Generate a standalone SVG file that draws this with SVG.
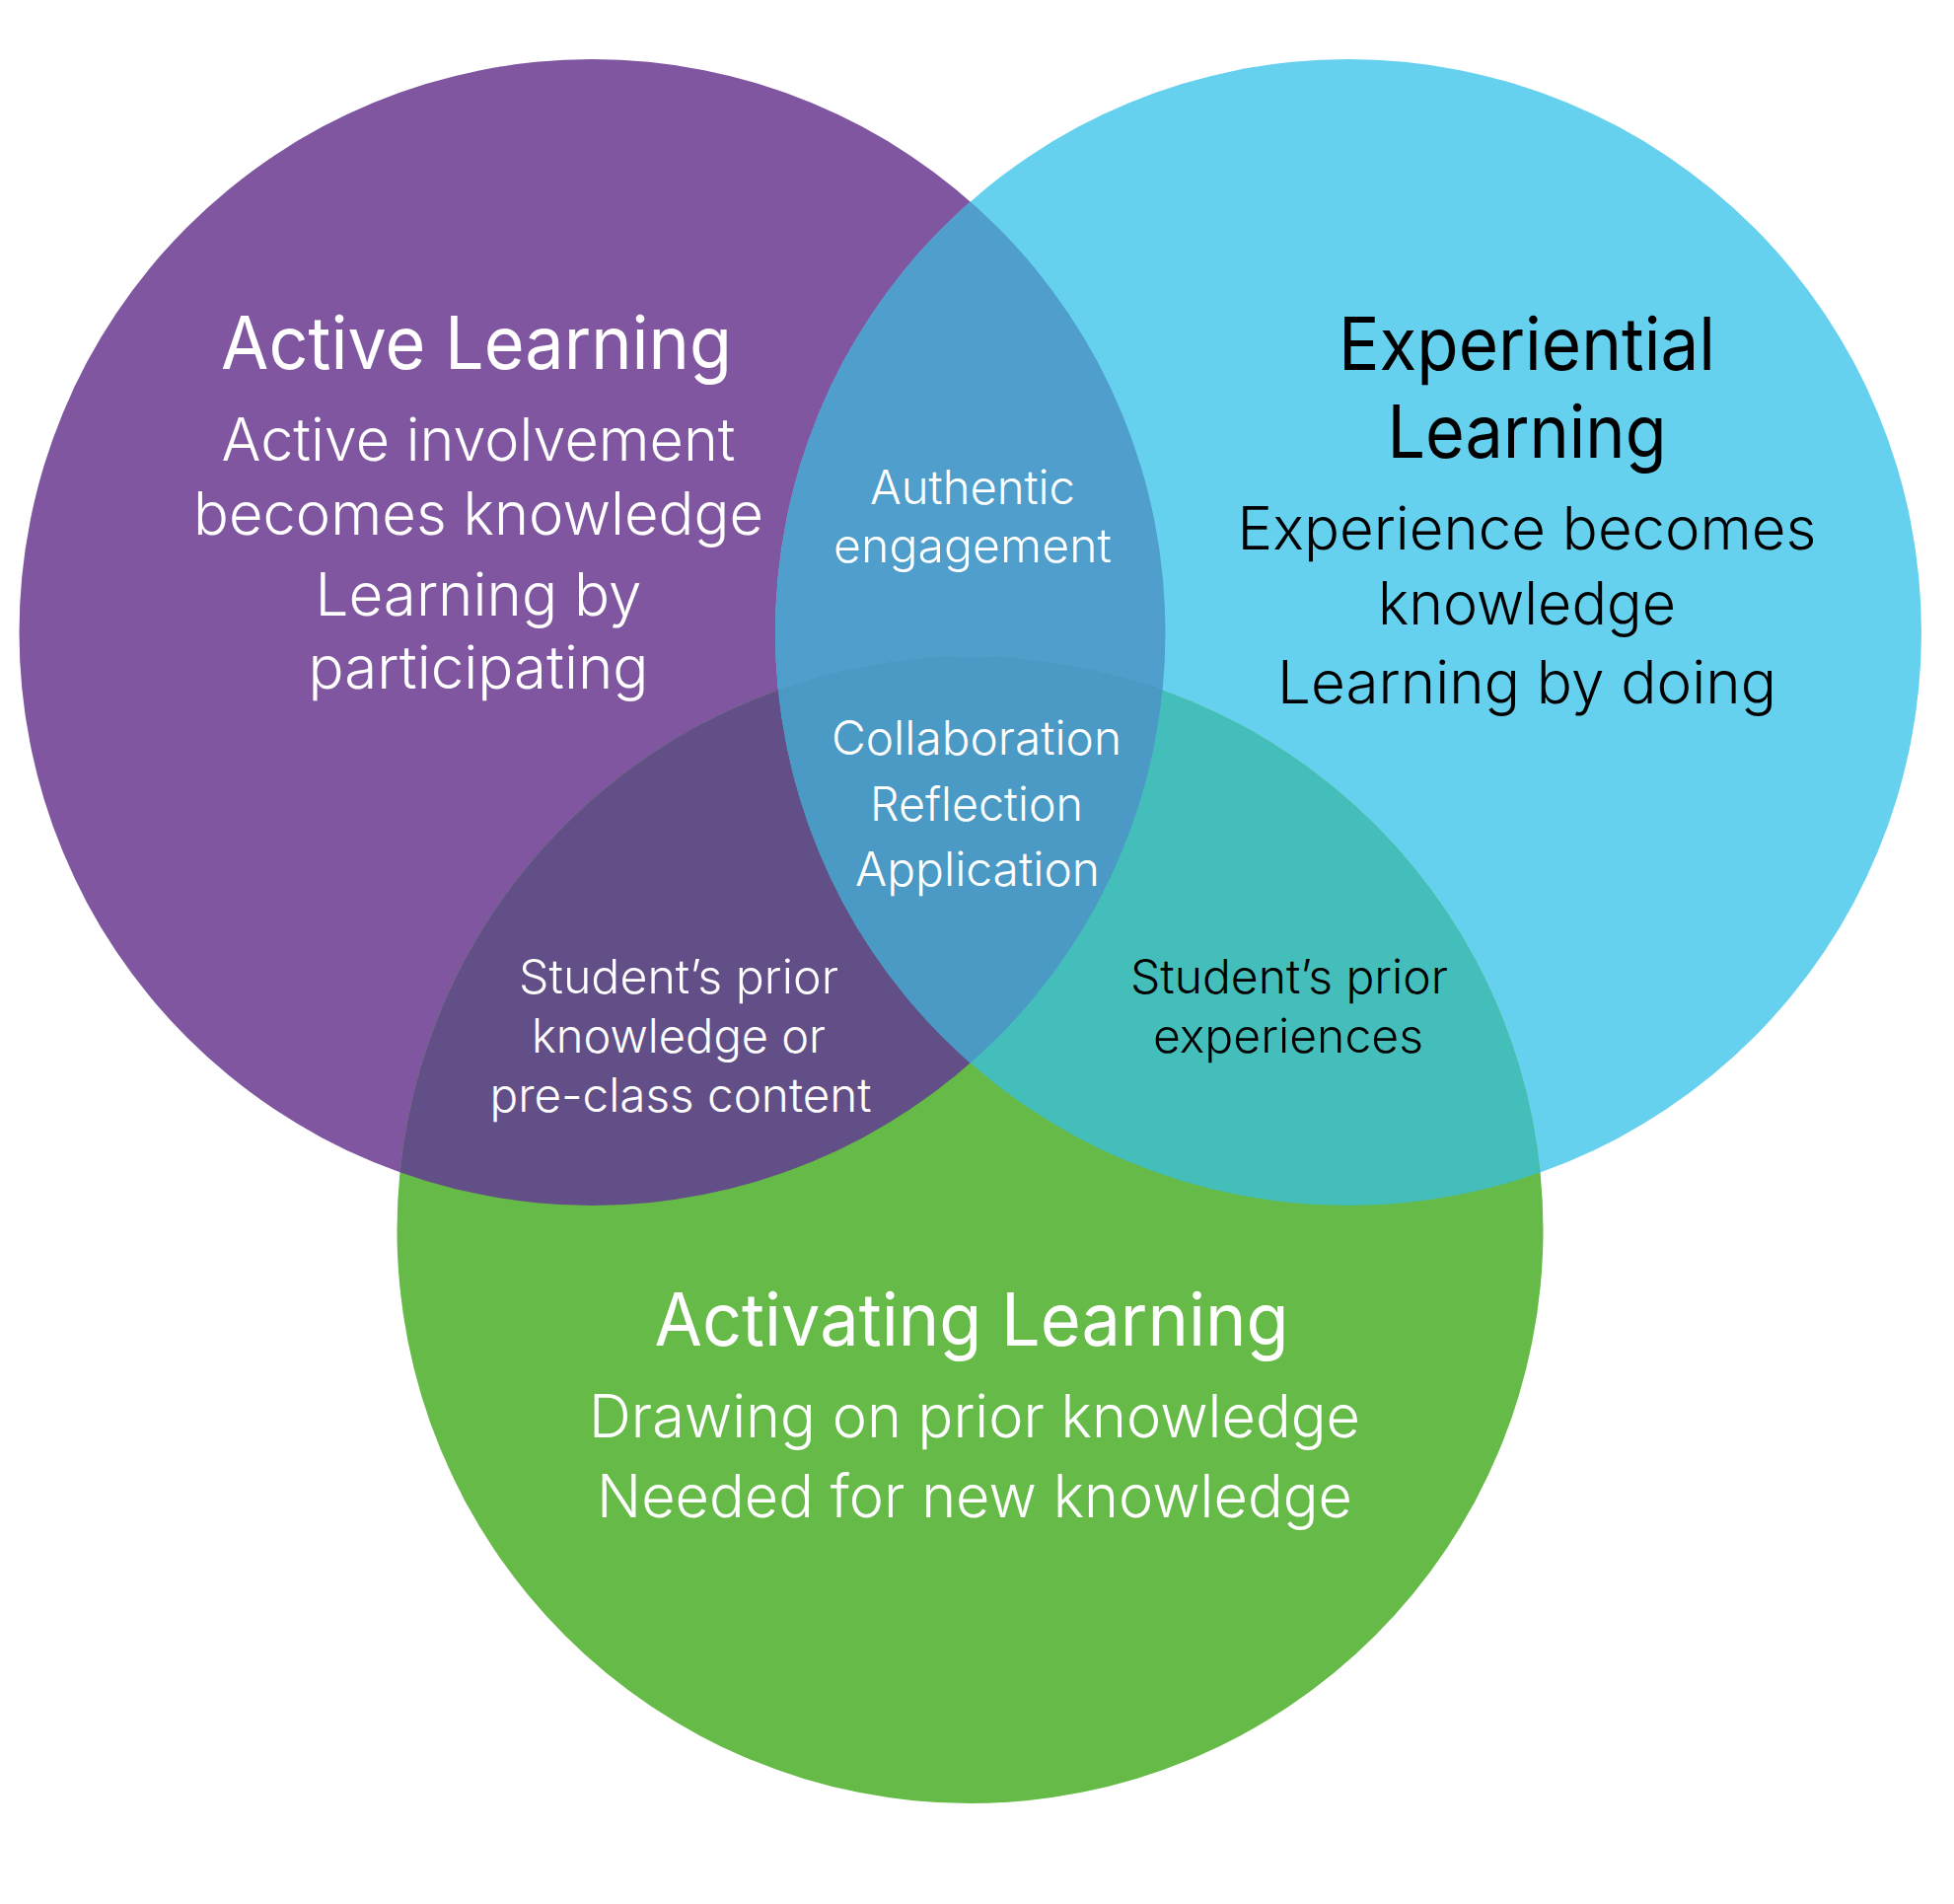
<svg xmlns="http://www.w3.org/2000/svg" width="1981" height="1930" viewBox="0 0 1981 1930">
  <style>
    text { font-family: "Helvetica Neue", Inter, "Liberation Sans", Arial, sans-serif; text-anchor: middle; }
    .title { font-size: 74px; font-weight: 400; }
    .body { font-size: 60px; font-weight: 300; }
    .small { font-size: 48px; font-weight: 300; }
    .w { fill: #ffffff; }
    .k { fill: #000000; }
  </style>
  <defs>
    <clipPath id="clipP"><circle cx="600.5" cy="641" r="581"/></clipPath>
    <clipPath id="clipB"><circle cx="1367" cy="641" r="581"/></clipPath>
    <clipPath id="clipG"><circle cx="983.5" cy="1247" r="581"/></clipPath>
  </defs>
  <rect width="1981" height="1930" fill="#ffffff"/>

  <g id="regions">
    <circle id="circle-active" cx="600.5" cy="641" r="581" fill="#7F569F"/>
    <circle id="circle-experiential" cx="1367" cy="641" r="581" fill="#66D1EF"/>
    <circle id="circle-activating" cx="983.5" cy="1247" r="581" fill="#66BA47"/>
    <circle id="overlap-active-experiential" cx="1367" cy="641" r="581" fill="#4F9ECC" clip-path="url(#clipP)"/>
    <circle id="overlap-active-activating" cx="983.5" cy="1247" r="581" fill="#634F87" clip-path="url(#clipP)"/>
    <circle id="overlap-experiential-activating" cx="983.5" cy="1247" r="581" fill="#44BEBA" clip-path="url(#clipB)"/>
    <g clip-path="url(#clipP)">
      <circle id="overlap-all" cx="983.5" cy="1247" r="581" fill="#4A9AC5" clip-path="url(#clipB)"/>
    </g>
  </g>

  <g id="node-active-learning" class="w">
    <text class="title" x="483" y="374" textLength="518" lengthAdjust="spacingAndGlyphs">Active Learning</text>
    <text class="body" x="485" y="467" textLength="521" lengthAdjust="spacingAndGlyphs">Active involvement</text>
    <text class="body" x="485" y="542" textLength="578" lengthAdjust="spacingAndGlyphs">becomes knowledge</text>
    <text class="body" x="485" y="624" textLength="331" lengthAdjust="spacingAndGlyphs">Learning by</text>
    <text class="body" x="485" y="698" textLength="345" lengthAdjust="spacingAndGlyphs">participating</text>
  </g>

  <g id="node-experiential-learning" class="k">
    <text class="title" x="1548" y="375" textLength="382" lengthAdjust="spacingAndGlyphs">Experiential</text>
    <text class="title" x="1548" y="464" textLength="283" lengthAdjust="spacingAndGlyphs">Learning</text>
    <text class="body" x="1548" y="557" textLength="587" lengthAdjust="spacingAndGlyphs">Experience becomes</text>
    <text class="body" x="1548" y="633" textLength="302" lengthAdjust="spacingAndGlyphs">knowledge</text>
    <text class="body" x="1548" y="713" textLength="506" lengthAdjust="spacingAndGlyphs">Learning by doing</text>
  </g>

  <g id="node-authentic-engagement" class="w">
    <text class="small" x="986" y="511" textLength="208" lengthAdjust="spacingAndGlyphs">Authentic</text>
    <text class="small" x="986" y="570" textLength="282" lengthAdjust="spacingAndGlyphs">engagement</text>
  </g>

  <g id="node-center" class="w">
    <text class="small" x="990" y="765" textLength="294" lengthAdjust="spacingAndGlyphs">Collaboration</text>
    <text class="small" x="990" y="832" textLength="216" lengthAdjust="spacingAndGlyphs">Reflection</text>
    <text class="small" x="991" y="898" textLength="248" lengthAdjust="spacingAndGlyphs">Application</text>
  </g>

  <g id="node-prior-knowledge" class="w">
    <text class="small" x="688" y="1007" textLength="324" lengthAdjust="spacingAndGlyphs">Student’s prior</text>
    <text class="small" x="688" y="1067" textLength="298" lengthAdjust="spacingAndGlyphs">knowledge or</text>
    <text class="small" x="690" y="1127" textLength="387" lengthAdjust="spacingAndGlyphs">pre-class content</text>
  </g>

  <g id="node-prior-experiences" class="k">
    <text class="small" x="1307" y="1007" textLength="322" lengthAdjust="spacingAndGlyphs">Student’s prior</text>
    <text class="small" x="1306" y="1067" textLength="274" lengthAdjust="spacingAndGlyphs">experiences</text>
  </g>

  <g id="node-activating-learning" class="w">
    <text class="title" x="985" y="1364" textLength="643" lengthAdjust="spacingAndGlyphs">Activating Learning</text>
    <text class="body" x="988" y="1457" textLength="782" lengthAdjust="spacingAndGlyphs">Drawing on prior knowledge</text>
    <text class="body" x="988" y="1538" textLength="766" lengthAdjust="spacingAndGlyphs">Needed for new knowledge</text>
  </g>
</svg>
